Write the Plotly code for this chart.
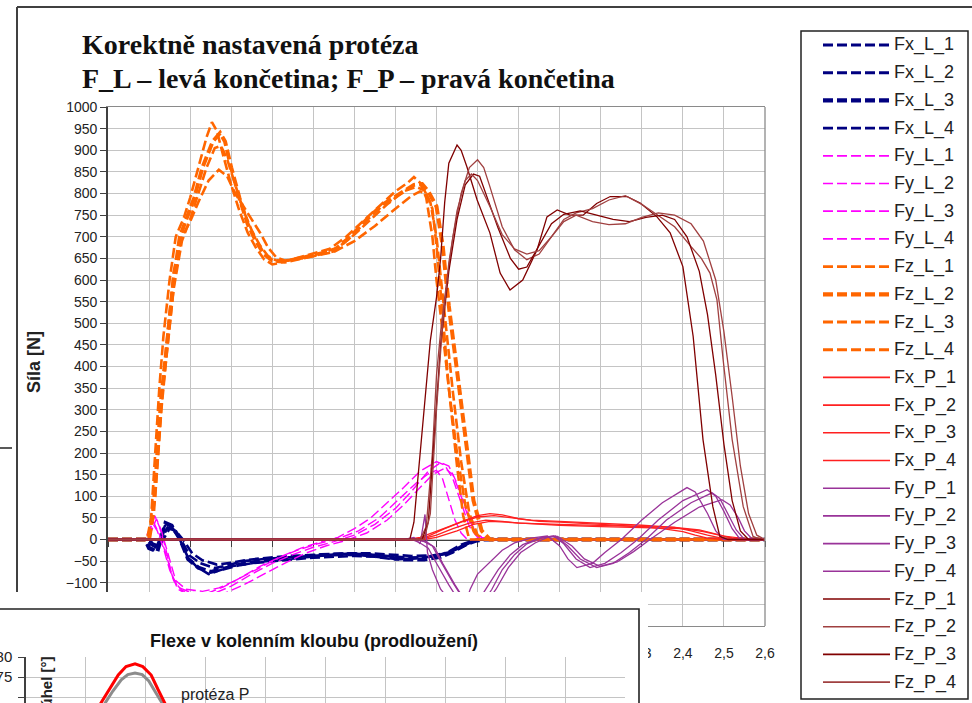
import plotly.graph_objects as go

W, H = 972, 703


def px_x(p):
    return p / W


def px_y(p):
    return 1 - p / H


# ---------------- main chart data (time [s] , force [N]) ----------------
fx_l_1_t = [1.00, 1.09, 1.10, 1.115, 1.14, 1.155, 1.175, 1.195, 1.215, 1.245, 1.27, 1.30, 1.35, 1.40, 1.45, 1.50, 1.55, 1.60, 1.65, 1.70, 1.75, 1.80, 1.83, 1.86, 1.89, 1.91, 2.60]
fx_l_1_v = [0, 0, -18, -25, 35, 30, 0, -42, -62, -80, -72, -62, -55, -50, -46, -42, -40, -38, -40, -46, -44, -38, -28, -12, -2, 0, 0]
fx_l_2_t = [1.00, 1.095, 1.105, 1.12, 1.145, 1.16, 1.18, 1.20, 1.225, 1.26, 1.29, 1.33, 1.38, 1.43, 1.48, 1.53, 1.58, 1.63, 1.68, 1.73, 1.78, 1.82, 1.85, 1.88, 1.90, 1.92, 2.60]
fx_l_2_v = [0, 0, -12, -20, 28, 22, -5, -38, -55, -66, -60, -50, -45, -42, -38, -35, -33, -34, -38, -42, -40, -34, -22, -8, -1, 0, 0]
fx_l_3_t = [1.00, 1.09, 1.10, 1.12, 1.14, 1.155, 1.175, 1.195, 1.22, 1.25, 1.28, 1.32, 1.37, 1.42, 1.47, 1.52, 1.57, 1.62, 1.67, 1.72, 1.77, 1.81, 1.84, 1.87, 1.895, 1.915, 2.60]
fx_l_3_v = [0, 0, -20, -28, 38, 32, 2, -45, -65, -75, -68, -58, -50, -45, -40, -36, -34, -35, -40, -46, -46, -40, -28, -12, -3, 0, 0]
fx_l_4_t = [1.00, 1.10, 1.11, 1.125, 1.15, 1.165, 1.185, 1.205, 1.23, 1.265, 1.30, 1.34, 1.39, 1.44, 1.49, 1.54, 1.59, 1.64, 1.69, 1.74, 1.79, 1.83, 1.86, 1.885, 1.905, 1.925, 2.60]
fx_l_4_v = [0, 0, -10, -15, 25, 20, -3, -32, -48, -58, -54, -47, -42, -38, -36, -34, -32, -32, -35, -38, -37, -30, -18, -6, -1, 0, 0]

fy_l_1_t = [1.00, 1.09, 1.105, 1.114, 1.125, 1.139, 1.155, 1.17, 1.20, 1.24, 1.28, 1.32, 1.37, 1.42, 1.47, 1.52, 1.56, 1.60, 1.64, 1.68, 1.72, 1.76, 1.80, 1.82, 1.84, 1.86, 1.88, 1.90, 1.92, 2.60]
fy_l_1_v = [0, 0, 30, 55, 30, -15, -80, -110, -122, -125, -110, -90, -62, -40, -20, -5, 5, 25, 50, 85, 120, 158, 180, 172, 140, 85, 30, 5, 0, 0]
fy_l_2_t = [1.00, 1.09, 1.11, 1.125, 1.14, 1.16, 1.18, 1.22, 1.26, 1.30, 1.35, 1.40, 1.45, 1.50, 1.55, 1.60, 1.65, 1.70, 1.74, 1.78, 1.81, 1.83, 1.85, 1.87, 1.89, 1.91, 1.93, 2.60]
fy_l_2_v = [0, 0, 42, 12, -30, -95, -118, -128, -124, -108, -80, -55, -35, -18, -5, 10, 35, 72, 112, 158, 178, 170, 130, 75, 25, 5, 0, 0]
fy_l_3_t = [1.00, 1.095, 1.108, 1.118, 1.13, 1.145, 1.165, 1.19, 1.23, 1.27, 1.31, 1.36, 1.41, 1.46, 1.51, 1.56, 1.61, 1.66, 1.71, 1.75, 1.78, 1.80, 1.815, 1.83, 1.845, 1.86, 1.875, 2.60]
fy_l_3_v = [0, 0, 25, 48, 20, -30, -95, -115, -120, -112, -95, -70, -45, -25, -10, 2, 20, 50, 95, 130, 152, 160, 140, 95, 45, 15, 0, 0]
fy_l_4_t = [1.00, 1.095, 1.11, 1.12, 1.135, 1.15, 1.17, 1.20, 1.25, 1.29, 1.33, 1.38, 1.43, 1.48, 1.53, 1.58, 1.63, 1.68, 1.72, 1.76, 1.79, 1.82, 1.84, 1.86, 1.88, 1.90, 1.92, 2.60]
fy_l_4_v = [0, 0, 35, 20, -20, -70, -115, -130, -135, -122, -105, -80, -55, -32, -15, -2, 15, 45, 80, 120, 150, 165, 150, 100, 45, 10, 0, 0]

fz_l_1_t = [1.00, 1.095, 1.105, 1.115, 1.125, 1.135, 1.15, 1.165, 1.185, 1.20, 1.22, 1.24, 1.253, 1.265, 1.28, 1.30, 1.32, 1.34, 1.36, 1.38, 1.40, 1.42, 1.45, 1.50, 1.54, 1.58, 1.62, 1.66, 1.70, 1.73, 1.745, 1.76, 1.775, 1.79, 1.80, 1.815, 1.83, 1.85, 1.87, 1.89, 1.905, 2.60]
fz_l_1_v = [0, 0, 50, 200, 350, 470, 600, 700, 745, 790, 860, 930, 965, 945, 890, 820, 760, 710, 675, 648, 636, 640, 648, 662, 672, 700, 735, 770, 805, 825, 838, 825, 790, 700, 600, 480, 350, 200, 80, 20, 0, 0]
fz_l_2_t = [1.00, 1.10, 1.11, 1.12, 1.13, 1.145, 1.16, 1.175, 1.19, 1.21, 1.23, 1.255, 1.273, 1.285, 1.30, 1.32, 1.34, 1.36, 1.38, 1.40, 1.43, 1.47, 1.51, 1.55, 1.59, 1.63, 1.67, 1.71, 1.745, 1.765, 1.78, 1.80, 1.815, 1.83, 1.85, 1.87, 1.89, 1.91, 1.93, 2.60]
fz_l_2_v = [0, 0, 60, 200, 330, 460, 600, 700, 740, 790, 860, 920, 940, 920, 860, 790, 730, 690, 660, 645, 642, 650, 660, 668, 700, 740, 775, 800, 820, 822, 805, 770, 680, 540, 390, 230, 90, 20, 0, 0]
fz_l_3_t = [1.00, 1.10, 1.115, 1.13, 1.145, 1.16, 1.18, 1.20, 1.22, 1.24, 1.26, 1.275, 1.29, 1.31, 1.33, 1.35, 1.37, 1.39, 1.41, 1.44, 1.48, 1.52, 1.56, 1.60, 1.64, 1.68, 1.72, 1.75, 1.77, 1.785, 1.80, 1.82, 1.84, 1.86, 1.88, 1.90, 1.92, 2.60]
fz_l_3_v = [0, 0, 100, 300, 450, 580, 690, 740, 800, 860, 905, 910, 880, 820, 760, 715, 680, 655, 645, 645, 652, 662, 675, 705, 740, 775, 805, 815, 808, 780, 700, 520, 340, 180, 60, 10, 0, 0]
fz_l_4_t = [1.00, 1.10, 1.115, 1.13, 1.145, 1.16, 1.18, 1.20, 1.22, 1.245, 1.27, 1.29, 1.31, 1.33, 1.35, 1.37, 1.39, 1.41, 1.43, 1.46, 1.50, 1.55, 1.60, 1.65, 1.70, 1.74, 1.76, 1.775, 1.79, 1.80, 1.815, 1.83, 1.85, 1.865, 1.88, 2.60]
fz_l_4_v = [0, 0, 120, 320, 480, 620, 700, 735, 780, 830, 855, 840, 800, 770, 740, 710, 675, 652, 645, 648, 655, 665, 690, 725, 765, 795, 805, 800, 765, 680, 520, 350, 170, 55, 0, 0]

fx_p_1_t = [1.00, 1.73, 1.76, 1.79, 1.83, 1.87, 1.90, 1.93, 1.96, 2.00, 2.05, 2.10, 2.20, 2.30, 2.35, 2.40, 2.43, 2.46, 2.50, 2.60]
fx_p_1_v = [0, 0, 5, 15, 30, 45, 55, 60, 57, 48, 42, 40, 35, 30, 25, 18, 10, 3, 0, 0]
fx_p_2_t = [1.00, 1.75, 1.78, 1.82, 1.86, 1.90, 1.94, 1.98, 2.03, 2.10, 2.20, 2.30, 2.38, 2.42, 2.46, 2.50, 2.53, 2.60]
fx_p_2_v = [0, 0, 8, 25, 40, 52, 55, 50, 45, 42, 38, 33, 28, 20, 10, 2, 0, 0]
fx_p_3_t = [1.00, 1.76, 1.80, 1.84, 1.88, 1.92, 1.96, 2.00, 2.10, 2.20, 2.30, 2.38, 2.44, 2.48, 2.52, 2.55, 2.60]
fx_p_3_v = [0, 0, 10, 25, 38, 45, 42, 38, 35, 32, 30, 28, 22, 12, 3, 0, 0]
fx_p_4_t = [1.00, 1.77, 1.80, 1.85, 1.89, 1.93, 1.97, 2.03, 2.10, 2.20, 2.30, 2.40, 2.45, 2.50, 2.55, 2.58, 2.60]
fx_p_4_v = [0, 0, 5, 20, 35, 42, 40, 36, 33, 30, 28, 25, 18, 8, 2, 0, 0]

fy_p_1_t = [1.00, 1.72, 1.745, 1.76, 1.772, 1.778, 1.79, 1.81, 1.84, 1.855, 1.87, 1.882, 1.90, 1.93, 1.96, 1.99, 2.03, 2.07, 2.10, 2.12, 2.142, 2.18, 2.21, 2.25, 2.30, 2.35, 2.41, 2.43, 2.46, 2.48, 2.50, 2.60]
fy_p_1_v = [0, 0, 5, -10, 58, -30, -70, -115, -150, -165, -150, -115, -80, -53, -25, -8, 3, 8, -15, -45, -65, -55, -30, 0, 45, 85, 120, 110, 60, 20, 0, 0]
fy_p_2_t = [1.00, 1.74, 1.76, 1.78, 1.80, 1.83, 1.86, 1.88, 1.90, 1.92, 1.95, 1.98, 2.01, 2.05, 2.085, 2.11, 2.14, 2.174, 2.21, 2.25, 2.29, 2.34, 2.40, 2.459, 2.48, 2.50, 2.52, 2.54, 2.60]
fy_p_2_v = [0, 0, -8, -20, -55, -105, -150, -168, -145, -115, -70, -35, -12, 3, 8, -10, -45, -65, -55, -30, 0, 45, 90, 115, 100, 65, 25, 0, 0]
fy_p_3_t = [1.00, 1.75, 1.77, 1.79, 1.81, 1.84, 1.87, 1.89, 1.91, 1.935, 1.96, 1.99, 2.02, 2.06, 2.09, 2.12, 2.15, 2.19, 2.23, 2.27, 2.31, 2.36, 2.42, 2.471, 2.49, 2.51, 2.53, 2.55, 2.60]
fy_p_3_v = [0, 0, -5, -15, -50, -100, -145, -160, -150, -115, -70, -35, -10, 5, 8, -15, -45, -65, -55, -30, 0, 45, 85, 108, 95, 60, 22, 0, 0]
fy_p_4_t = [1.00, 1.755, 1.775, 1.795, 1.815, 1.845, 1.875, 1.895, 1.915, 1.945, 1.975, 2.005, 2.04, 2.07, 2.095, 2.13, 2.16, 2.198, 2.24, 2.28, 2.32, 2.38, 2.44, 2.495, 2.515, 2.535, 2.55, 2.57, 2.60]
fy_p_4_v = [0, 0, -5, -18, -55, -105, -150, -165, -155, -115, -65, -30, -8, 5, 7, -15, -45, -62, -52, -28, 0, 40, 75, 92, 80, 50, 20, 0, 0]

fz_p_1_t = [1.00, 1.735, 1.745, 1.76, 1.775, 1.785, 1.80, 1.81, 1.82, 1.83, 1.85, 1.86, 1.874, 1.899, 1.93, 1.955, 1.979, 2.01, 2.045, 2.069, 2.094, 2.125, 2.157, 2.19, 2.223, 2.264, 2.296, 2.337, 2.369, 2.40, 2.425, 2.449, 2.473, 2.49, 2.51, 2.60]
fz_p_1_v = [0, 0, 40, 200, 350, 460, 560, 650, 780, 870, 912, 900, 862, 785, 709, 616, 577, 600, 670, 746, 762, 750, 750, 777, 793, 793, 778, 746, 709, 631, 470, 231, 76, 7, 0, 0]
fz_p_2_t = [1.00, 1.76, 1.775, 1.79, 1.80, 1.81, 1.82, 1.84, 1.86, 1.88, 1.90, 1.915, 1.93, 1.96, 1.99, 2.02, 2.05, 2.08, 2.11, 2.14, 2.18, 2.22, 2.26, 2.30, 2.34, 2.38, 2.42, 2.445, 2.466, 2.483, 2.498, 2.52, 2.547, 2.571, 2.59, 2.60]
fz_p_2_v = [0, 0, 30, 200, 380, 480, 560, 700, 800, 860, 878, 860, 816, 723, 670, 647, 660, 700, 740, 755, 765, 785, 795, 775, 748, 723, 677, 650, 616, 554, 416, 231, 76, 7, 0, 0]
fz_p_3_t = [1.00, 1.765, 1.78, 1.795, 1.81, 1.83, 1.85, 1.87, 1.89, 1.905, 1.92, 1.95, 1.98, 2.00, 2.02, 2.05, 2.08, 2.11, 2.15, 2.19, 2.23, 2.27, 2.31, 2.35, 2.38, 2.41, 2.44, 2.46, 2.48, 2.50, 2.52, 2.54, 2.56, 2.60]
fz_p_3_v = [0, 0, 40, 250, 450, 620, 740, 820, 845, 840, 800, 720, 650, 625, 630, 680, 730, 752, 760, 750, 740, 735, 745, 750, 740, 700, 620, 520, 380, 220, 90, 20, 0, 0]
fz_p_4_t = [1.00, 1.77, 1.785, 1.80, 1.815, 1.83, 1.85, 1.87, 1.885, 1.90, 1.93, 1.96, 1.99, 2.02, 2.05, 2.08, 2.11, 2.14, 2.18, 2.22, 2.26, 2.30, 2.34, 2.38, 2.42, 2.45, 2.48, 2.50, 2.52, 2.54, 2.56, 2.58, 2.60]
fz_p_4_v = [0, 0, 60, 300, 500, 640, 760, 830, 845, 830, 770, 705, 672, 660, 668, 700, 735, 750, 735, 728, 730, 745, 755, 750, 730, 690, 600, 480, 330, 170, 60, 10, 0]

series_names = ["Fx_L_1", "Fx_L_2", "Fx_L_3", "Fx_L_4",
                "Fy_L_1", "Fy_L_2", "Fy_L_3", "Fy_L_4",
                "Fz_L_1", "Fz_L_2", "Fz_L_3", "Fz_L_4",
                "Fx_P_1", "Fx_P_2", "Fx_P_3", "Fx_P_4",
                "Fy_P_1", "Fy_P_2", "Fy_P_3", "Fy_P_4",
                "Fz_P_1", "Fz_P_2", "Fz_P_3", "Fz_P_4"]
series_t = [fx_l_1_t, fx_l_2_t, fx_l_3_t, fx_l_4_t,
            fy_l_1_t, fy_l_2_t, fy_l_3_t, fy_l_4_t,
            fz_l_1_t, fz_l_2_t, fz_l_3_t, fz_l_4_t,
            fx_p_1_t, fx_p_2_t, fx_p_3_t, fx_p_4_t,
            fy_p_1_t, fy_p_2_t, fy_p_3_t, fy_p_4_t,
            fz_p_1_t, fz_p_2_t, fz_p_3_t, fz_p_4_t]
series_v = [fx_l_1_v, fx_l_2_v, fx_l_3_v, fx_l_4_v,
            fy_l_1_v, fy_l_2_v, fy_l_3_v, fy_l_4_v,
            fz_l_1_v, fz_l_2_v, fz_l_3_v, fz_l_4_v,
            fx_p_1_v, fx_p_2_v, fx_p_3_v, fx_p_4_v,
            fy_p_1_v, fy_p_2_v, fy_p_3_v, fy_p_4_v,
            fz_p_1_v, fz_p_2_v, fz_p_3_v, fz_p_4_v]

# x tick labels: only the ones not hidden behind the overlapping chart are legible
x_tick_vals = [1.0, 1.1, 1.2, 1.3, 1.4, 1.5, 1.6, 1.7, 1.8, 1.9, 2.0, 2.1, 2.2, 2.3, 2.4, 2.5, 2.6]
x_tick_text = ["", "", "", "", "", "", "", "", "", "", "", "", "", "2,3", "2,4", "2,5", "2,6"]
y_ticks = list(range(-200, 1001, 50))

# inset chart data (knee flexion)
flex_red_x = [8, 10, 12.3, 14.0, 15.4, 16.7, 18.2, 19.5, 20.9, 22.0, 23.2, 25, 28]
flex_red_y = [60, 63, 68, 72, 75.5, 77.6, 78.3, 77.6, 75.5, 72, 68, 63, 58]
flex_gray_x = [9, 11, 13.0, 14.5, 15.9, 17.0, 18.2, 19.4, 20.5, 21.7, 22.7, 24.5, 27]
flex_gray_y = [60, 64, 68, 71.5, 74.3, 75.6, 76, 75.6, 74, 71, 68, 63, 58]
inset_y_ticks = [70, 75, 80]


def style_for(name):
    comp, side, idx = name.split("_")
    if side == "L":
        if comp == "Fx":
            return dict(color="#000080", width=4 if idx == "3" else 2.6, dash="10px,4px")
        if comp == "Fy":
            return dict(color="#FF00FF", width=1.4, dash="10px,4px")
        return dict(color="#FF6600", width=4 if idx == "2" else 2.6, dash="10px,4px")
    if comp == "Fx":
        return dict(color="#FF2020", width=1.3)
    if comp == "Fy":
        return dict(color="#993399", width=1.3)
    return dict(color="#800000" if idx in ("1", "3") else "#A04040", width=1.3)


fig = go.Figure()

for name, t, v in zip(series_names, series_t, series_v):
    fig.add_trace(go.Scatter(
        x=t, y=v, name=name, mode="lines", line=style_for(name),
        showlegend=False, hoverinfo="skip",
        xaxis="x4" if name == "Fz_P_4" else "x", yaxis="y"))

# carrier for the white cover of the overlapping second chart
fig.add_trace(go.Scatter(x=[0], y=[0], xaxis="x2", yaxis="y2", mode="lines",
                         showlegend=False, hoverinfo="skip"))

fig.add_trace(go.Scatter(x=flex_gray_x, y=flex_gray_y, xaxis="x3", yaxis="y3", mode="lines",
                         line=dict(color="#8C8C8C", width=3), showlegend=False, hoverinfo="skip"))
fig.add_trace(go.Scatter(x=flex_red_x, y=flex_red_y, xaxis="x3", yaxis="y3", mode="lines",
                         line=dict(color="#FF0000", width=3), showlegend=False, hoverinfo="skip"))

FONT = "Liberation Sans, Arial, sans-serif"
SERIF = "Liberation Serif, Times New Roman, serif"

fig.update_layout(
    template="none",
    width=W, height=H, autosize=False,
    margin=dict(l=0, r=0, t=0, b=0),
    paper_bgcolor="white", plot_bgcolor="white",
    separators=", ",
    hovermode=False,
    showlegend=False,
    font=dict(family=FONT, size=13, color="#222222"),
    xaxis=dict(domain=[px_x(108), px_x(765)], range=[1.0, 2.6],
               tickvals=x_tick_vals, ticktext=x_tick_text,
               showgrid=True, gridcolor="#C4C4C4", gridwidth=1.3,
               showline=True, linecolor="#8A8A8A", linewidth=1.3, mirror=True,
               ticks="outside", ticklen=14, tickcolor="rgba(0,0,0,0)",
               tickfont=dict(family=FONT, size=14, color="#222"), zeroline=False,
               anchor="y", automargin=False),
    yaxis=dict(domain=[px_y(626), px_y(107)], range=[-200, 1000], tickvals=y_ticks,
               showgrid=True, gridcolor="#C4C4C4", gridwidth=1.3,
               showline=True, linecolor="#404040", linewidth=1.6,
               ticks="outside", ticklen=6, tickcolor="#404040",
               tickfont=dict(family=FONT, size=14, color="#222"), zeroline=False,
               anchor="x", automargin=False),
    xaxis4=dict(overlaying="x", anchor="free", position=px_y(540), range=[1.0, 2.6],
                tickvals=x_tick_vals, showgrid=False, showline=True, linecolor="#404040",
                linewidth=1.2, ticks="outside", ticklen=6, tickcolor="#404040",
                showticklabels=False, zeroline=False, layer="below traces",
                side="bottom", automargin=False),
    xaxis2=dict(domain=[0, px_x(648)], range=[0, 648], visible=False, anchor="y2",
                automargin=False),
    yaxis2=dict(domain=[0, px_y(592)], range=[0, 111], visible=False, anchor="x2",
                automargin=False),
    xaxis3=dict(domain=[px_x(26), px_x(625)], range=[0, 100], dtick=10,
                showgrid=True, gridcolor="#C4C4C4", gridwidth=1.3, showline=False,
                showticklabels=False, ticks="", zeroline=False, anchor="y3",
                automargin=False),
    yaxis3=dict(domain=[0, px_y(657)], range=[68.5, 80], tickvals=inset_y_ticks,
                showgrid=True, gridcolor="#C4C4C4", gridwidth=1.3,
                showline=True, linecolor="#404040", linewidth=1.5,
                ticks="outside", ticklen=6, tickcolor="#404040", ticklabelstandoff=3,
                tickfont=dict(family=FONT, size=15, color="#222"), zeroline=False,
                anchor="x3", automargin=False),
)

shapes = [
    # outer frame of the main chart
    dict(type="line", xref="paper", yref="paper", x0=px_x(17), x1=1.0, y0=px_y(7), y1=px_y(7),
         line=dict(color="#404040", width=2), layer="below"),
    dict(type="line", xref="paper", yref="paper", x0=px_x(17), x1=px_x(17), y0=px_y(7), y1=px_y(593),
         line=dict(color="#404040", width=2), layer="below"),
    dict(type="line", xref="paper", yref="paper", x0=0, x1=px_x(12), y0=px_y(448), y1=px_y(448),
         line=dict(color="#222", width=1.5), layer="below"),
    # plot area right border
    dict(type="line", xref="paper", yref="paper", x0=px_x(765), x1=px_x(765), y0=px_y(626), y1=px_y(107),
         line=dict(color="#8A8A8A", width=1.3), layer="above"),
    # legend frame
    dict(type="rect", xref="paper", yref="paper", x0=px_x(801), x1=px_x(968), y0=px_y(699), y1=px_y(31),
         line=dict(color="#222", width=1.5), layer="above"),
    # overlapping second chart: white area and its border
    dict(type="rect", xref="x2", yref="y2", x0=-10, x1=647, y0=-10, y1=112,
         fillcolor="white", line=dict(width=0), layer="below"),
    dict(type="rect", xref="x2", yref="y2", x0=-10, x1=639, y0=-10, y1=703 - 609,
         fillcolor="rgba(0,0,0,0)", line=dict(color="#222", width=1.6), layer="below"),
]

annotations = [
    dict(text="<b>Korektně nastavená protéza</b>", x=px_x(80), y=px_y(45), xref="paper", yref="paper",
         xanchor="left", yanchor="middle", showarrow=False,
         font=dict(family=SERIF, size=28, color="#111")),
    dict(text="<b>F_L – levá končetina; F_P – pravá končetina</b>", x=px_x(80), y=px_y(78),
         xref="paper", yref="paper", xanchor="left", yanchor="middle", showarrow=False,
         font=dict(family=SERIF, size=28, color="#111")),
    dict(text="<b>Síla [N]</b>", x=px_x(34), y=px_y(362), xref="paper", yref="paper",
         xanchor="center", yanchor="middle",
         textangle=-90, showarrow=False, font=dict(family=FONT, size=18, color="#222")),
    dict(text="<b>Flexe v kolenním kloubu (prodloužení)</b>", x=px_x(314), y=px_y(641),
         xref="paper", yref="paper", xanchor="center", yanchor="middle", showarrow=False,
         font=dict(family=FONT, size=18, color="#111")),
    dict(text="protéza P", x=px_x(179), y=px_y(694), xref="paper", yref="paper",
         xanchor="left", yanchor="middle", showarrow=False,
         font=dict(family=FONT, size=16, color="#222")),
    dict(text="levá", x=px_x(430), y=px_y(711), xref="paper", yref="paper",
         xanchor="left", yanchor="middle", showarrow=False,
         font=dict(family=FONT, size=16, color="#222")),
    dict(text="<b>úhel [°]</b>", x=px_x(46), y=px_y(655), xref="paper", yref="paper",
         xanchor="center", yanchor="top", textangle=-90, showarrow=False,
         font=dict(family=FONT, size=15, color="#222")),
]

# legend drawn as sample lines plus text labels
legend_y0 = 45
legend_step = 27.7
for i, name in enumerate(series_names):
    st = style_for(name)
    yc = px_y(legend_y0 + i * legend_step)
    shapes.append(dict(type="line", xref="paper", yref="paper",
                       x0=px_x(823), x1=px_x(890), y0=yc, y1=yc, layer="above",
                       line=dict(color=st["color"], width=st["width"] + 0.3,
                                 dash=st.get("dash", "solid"))))
    annotations.append(dict(text=name, x=px_x(892), y=yc, xref="paper", yref="paper",
                            xanchor="left", yanchor="middle", showarrow=False,
                            font=dict(family=FONT, size=18, color="#222")))

fig.update_layout(shapes=shapes, annotations=annotations)

fig.write_html("out.html", config={"displayModeBar": False},
               post_script="document.body.style.margin='0px';document.body.style.overflow='hidden';")
